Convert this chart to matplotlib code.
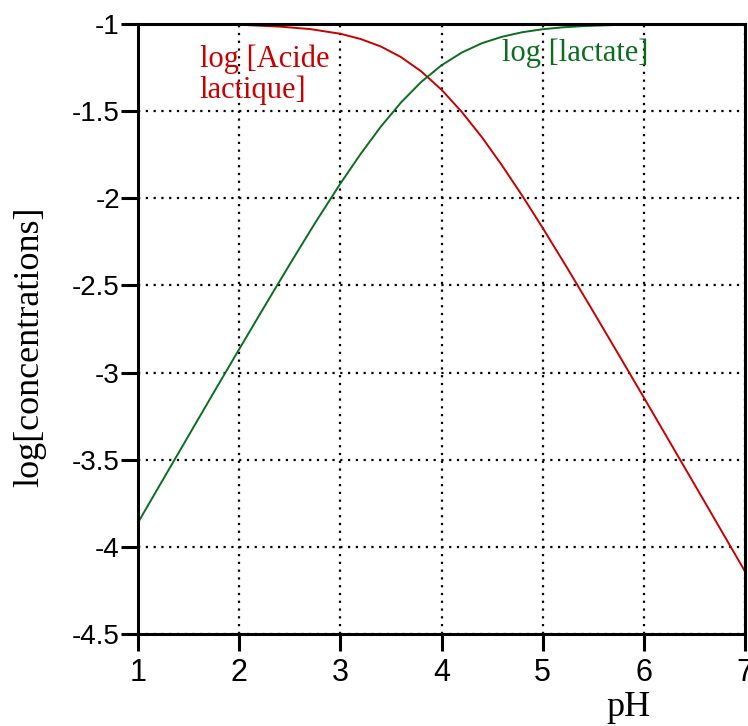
import matplotlib
matplotlib.use("Agg")
import matplotlib.pyplot as plt
from matplotlib.ticker import FuncFormatter

# Data
ph_lactate = [1.0, 1.25, 1.5, 1.75, 2.0, 2.25, 2.5, 2.75, 3.0, 3.2, 3.4, 3.6, 3.8,
              4.0, 4.2, 4.4, 4.6, 4.8, 5.0, 5.2, 5.4, 5.7]
log_lactate = [-3.861, -3.611, -3.362, -3.113, -2.866, -2.621, -2.379, -2.142, -1.916,
               -1.746, -1.589, -1.450, -1.332, -1.237, -1.164, -1.110, -1.073, -1.047,
               -1.030, -1.019, -1.012, -1.006]

ph_acide = [2.1, 2.4, 2.7, 3.0, 3.2, 3.4, 3.6, 3.8, 4.0, 4.2, 4.4, 4.6, 4.8, 5.0,
            5.25, 5.5, 5.75, 6.0, 6.25, 6.5, 6.75, 7.0]
log_acide = [-1.007, -1.015, -1.029, -1.056, -1.086, -1.129, -1.190, -1.272, -1.377,
             -1.504, -1.650, -1.813, -1.987, -2.170, -2.407, -2.650, -2.896, -3.143,
             -3.392, -3.641, -3.891, -4.141]

x_ticks = [1, 2, 3, 4, 5, 6, 7]
y_ticks = [-1, -1.5, -2, -2.5, -3, -3.5, -4, -4.5]

red = "#c80000"
green = "#0a6e1e"
serif = ["Liberation Serif", "DejaVu Serif"]
sans = ["Liberation Sans", "DejaVu Sans"]

fig = plt.figure(figsize=(7.48, 7.26), dpi=100)
ax = fig.add_axes([138 / 748, 92 / 726, 607 / 748, 610 / 726])

ax.plot(ph_acide, log_acide, color=red, lw=1.4, clip_on=False)
ax.plot(ph_lactate, log_lactate, color=green, lw=1.4, clip_on=False)

ax.set_xlim(1, 7)
ax.set_ylim(-4.5, -1)
ax.set_xticks(x_ticks)
ax.set_yticks(y_ticks)
ax.xaxis.set_major_formatter(FuncFormatter(lambda v, p: f"{v:g}"))
ax.yaxis.set_major_formatter(FuncFormatter(lambda v, p: f"{v:g}"))

ax.grid(True, color="black", linestyle=(0, (1, 2.5)), linewidth=1.6)
for s in ax.spines.values():
    s.set_linewidth(2.2)
ax.tick_params(axis="x", direction="out", length=12, width=2.2, pad=5, labelsize=22)
ax.tick_params(axis="y", direction="out", length=12, width=2.2, pad=1, labelsize=20)
for lab in ax.get_xticklabels() + ax.get_yticklabels():
    lab.set_family(sans)

ax.text(1.61, -1.115, "log [Acide\nlactique]", color=red, fontsize=22,
        family=serif, va="top", ha="left", linespacing=1.1)
ax.text(4.60, -1.085, "log [lactate]", color=green, fontsize=22,
        family=serif, va="top", ha="left")

fig.text(30 / 748, 1 - 347 / 726, "log[concentrations]", rotation=90, fontsize=26,
         family=serif, ha="center", va="center")
fig.text(628 / 748, 1 - 707 / 726, "pH", fontsize=26, family=serif,
         ha="center", va="center")

fig.savefig("out.png", dpi=100)
